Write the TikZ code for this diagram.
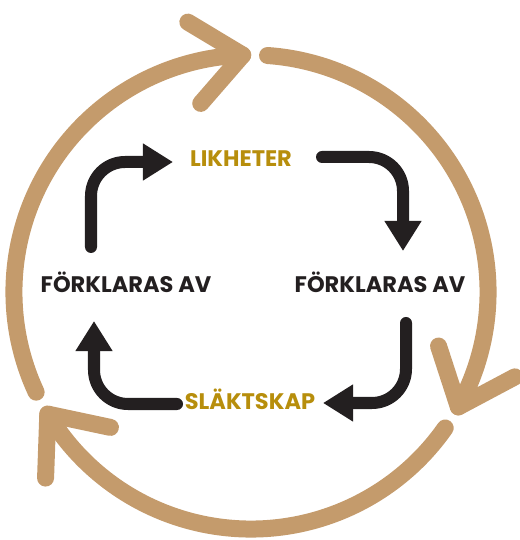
\documentclass[tikz,border=0pt]{standalone}
\usepackage{fontspec}
\setmainfont{Poppins}
\usetikzlibrary{arrows.meta,calc}

\definecolor{ringtan}{RGB}{196,155,108}
\definecolor{labelgold}{RGB}{183,142,12}
\definecolor{arrowblack}{RGB}{35,31,32}

\tikzset{
  ring/.style={ringtan, line width=0.425cm, line cap=round, line join=round},
  flow/.style={arrowblack, line width=0.3cm, line cap=round, rounded corners=0.85cm,
    -{Triangle[length=0.75cm,width=0.875cm]}},
  term/.style={font=\bfseries\fontsize{16}{18}\selectfont, inner sep=0pt, anchor=base},
}

\begin{document}
\begin{tikzpicture}[x=0.025cm,y=0.025cm]
    \useasboundingbox (0,0) rectangle (520,540);
    \coordinate (c) at (251,248);

    \node[term, labelgold] (lik) at (241,373) {LIKHETER};
    \node[term, arrowblack] (frr) at (380,247) {FÖRKLARAS AV};
    \node[term, arrowblack] (frl) at (126,247) {FÖRKLARAS AV};
    \node[term, labelgold] (slak) at (250,130) {SLÄKTSKAP};

    % inner cycle
    \draw[flow] ($(frl.base)+(-35,46)$) |- ($(lik.base)+(-68,5)$);
    \draw[flow] ($(lik.base)+(81,10)$) -| ($(frr.base)+(23,42)$);
    \draw[flow] ($(frr.base)+(26,-30)$) |- ($(slak.base)+(73,7)$);
    \draw[flow] ($(slak.base)+(-73,6)$) -| ($(frl.base)+(-32,-28)$);

    % outer ring
    \foreach \from/\to in {86/-29, -35/-149, -155/-268} {
        \draw[ring] ($(c)+(\from:5.925cm)$) arc[start angle=\from, end angle=\to, radius=5.925cm];
        \draw[ring] ($(c)+(\to:5.925cm)+(\to+137:1.6cm)$) -- ($(c)+(\to:5.925cm)$)
            -- ($(c)+(\to:5.925cm)+(\to+57:1.6cm)$);
    }
\end{tikzpicture}
\end{document}
